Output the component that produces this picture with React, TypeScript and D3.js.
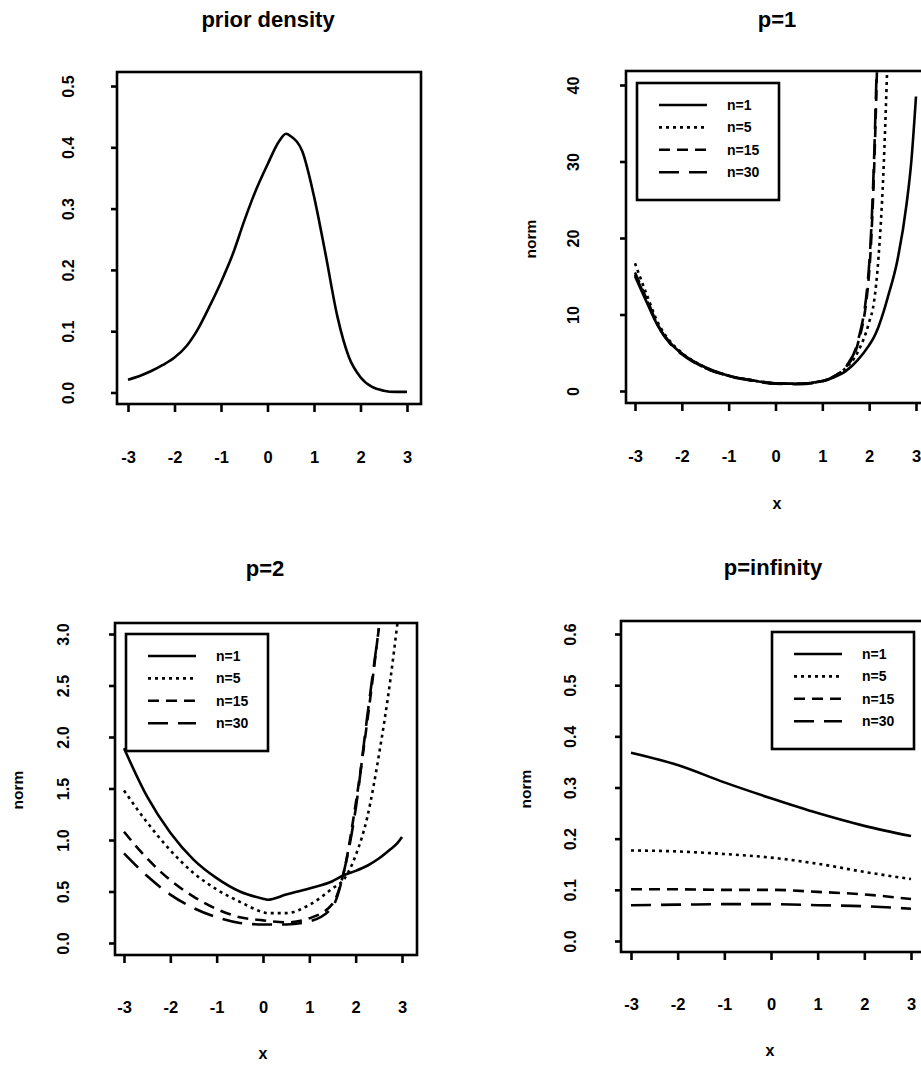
import React, { useEffect, useRef } from "react";
import * as d3 from "d3";

const WIDTH = 921;
const HEIGHT = 1066;
const FONT = "'Liberation Sans', Arial, Helvetica, sans-serif";

const xTicks = [-3, -2, -1, 0, 1, 2, 3];
const legendLabels = ["n=1", "n=5", "n=15", "n=30"];

// prior density
const priorX = [-3, -2.75, -2.5, -2.25, -2, -1.75, -1.5, -1.25, -1, -0.75, -0.5, -0.25, 0, 0.25, 0.4, 0.5, 0.75, 1, 1.25, 1.5, 1.75, 2, 2.25, 2.5, 2.75, 3];
const priorDensity = [0.021, 0.027, 0.035, 0.045, 0.057, 0.075, 0.103, 0.14, 0.18, 0.225, 0.28, 0.33, 0.372, 0.41, 0.422, 0.418, 0.393, 0.32, 0.225, 0.125, 0.058, 0.025, 0.009, 0.003, 0.001, 0.001];
const priorYTicks = [0, 0.1, 0.2, 0.3, 0.4, 0.5];

// p=1 (values past the top of the frame are clipped)
const p1X = [-3, -2.75, -2.5, -2.25, -2, -1.5, -1, -0.5, 0, 0.5, 1, 1.25, 1.5, 1.75, 2, 2.1, 2.2, 2.3, 2.4, 2.6, 2.8, 2.9, 3];
const p1N1 = [15.0, 11.6, 8.4, 6.3, 4.9, 3.1, 2.0, 1.4, 1.0, 0.95, 1.3, 1.8, 2.6, 4.0, 6.0, 7.0, 8.4, 10.2, 12.3, 17.0, 24.5, 30, 38.5];
const p1N5 = [16.7, 12.6, 8.8, 6.5, 5.0, 3.1, 2.0, 1.4, 1.0, 0.95, 1.3, 1.9, 3.0, 5.0, 9.0, 11.5, 17.5, 28, 45, null, null, null, null];
const p1N15 = [15.5, 12.0, 8.5, 6.3, 4.9, 3.0, 2.0, 1.4, 1.0, 0.95, 1.3, 1.9, 3.1, 6.0, 15.5, 28, 50, null, null, null, null, null, null];
const p1N30 = [15.2, 11.9, 8.4, 6.2, 4.8, 3.0, 1.95, 1.35, 0.95, 0.9, 1.25, 1.9, 3.2, 6.3, 16.5, 29.5, 52, null, null, null, null, null, null];
const p1YTicks = [0, 10, 20, 30, 40];

// p=2
const p2X = [-3, -2.5, -2, -1.5, -1, -0.5, 0, 0.1, 0.5, 1, 1.5, 1.75, 2, 2.25, 2.5, 2.75, 2.9, 3];
const p2N1 = [1.89, 1.42, 1.07, 0.81, 0.63, 0.5, 0.43, 0.42, 0.47, 0.53, 0.6, 0.66, 0.7, 0.75, 0.82, 0.91, 0.97, 1.03];
const p2N5 = [1.48, 1.17, 0.9, 0.68, 0.52, 0.4, 0.3, 0.29, 0.29, 0.37, 0.53, 0.62, 0.85, 1.22, 1.82, 2.56, 3.1, null];
const p2N15 = [1.08, 0.82, 0.61, 0.45, 0.33, 0.25, 0.22, 0.215, 0.2, 0.24, 0.38, 0.7, 1.35, 2.15, 3.06, null, null, null];
const p2N30 = [0.87, 0.65, 0.47, 0.34, 0.25, 0.195, 0.18, 0.18, 0.18, 0.21, 0.35, 0.7, 1.3, 2.2, 3.05, null, null, null];
const p2YTicks = [0, 0.5, 1, 1.5, 2, 2.5, 3];

// p=infinity
const pInfX = [-3, -2, -1, 0, 1, 2, 3];
const pInfN1 = [0.368, 0.344, 0.31, 0.279, 0.25, 0.225, 0.205];
const pInfN5 = [0.177, 0.175, 0.17, 0.163, 0.151, 0.135, 0.121];
const pInfN15 = [0.101, 0.101, 0.1, 0.1, 0.096, 0.091, 0.082];
const pInfN30 = [0.07, 0.071, 0.072, 0.072, 0.07, 0.068, 0.063];
const pInfYTicks = [0, 0.1, 0.2, 0.3, 0.4, 0.5, 0.6];

const dashes = ["none", "3,4", "11,7", "20,10"];

const panels = [
  {
    title: "prior density", titleX: 268, titleY: 27,
    frame: { l: 117, r: 421, t: 72, b: 404 },
    xRange: [128, 407], yDomain: [0, 0.5], yRange: [392.5, 86],
    yTicks: priorYTicks, fmt: d3.format(".1f"), yLabelX: 68, xLabelY: 457,
    series: [{ x: priorX, y: priorDensity }],
    xTitle: null, yTitle: null, legend: null,
  },
  {
    title: "p=1", titleX: 777, titleY: 27,
    frame: { l: 626, r: 931, t: 71, b: 403 },
    xRange: [635, 916], yDomain: [0, 40], yRange: [391, 85],
    yTicks: p1YTicks, fmt: d3.format("d"), yLabelX: 573, xLabelY: 456,
    series: [p1N1, p1N5, p1N15, p1N30].map((y) => ({ x: p1X, y })),
    xTitle: [777, 503], yTitle: [530, 239], legend: [637, 83],
  },
  {
    title: "p=2", titleX: 265, titleY: 576,
    frame: { l: 115, r: 417, t: 623, b: 955 },
    xRange: [124, 402], yDomain: [0, 3], yRange: [943, 634],
    yTicks: p2YTicks, fmt: d3.format(".1f"), yLabelX: 63, xLabelY: 1007,
    series: [p2N1, p2N5, p2N15, p2N30].map((y) => ({ x: p2X, y })),
    xTitle: [263, 1053], yTitle: [17, 790], legend: [126, 634],
  },
  {
    title: "p=infinity", titleX: 773, titleY: 575,
    frame: { l: 621, r: 931, t: 621, b: 952 },
    xRange: [631, 911], yDomain: [0, 0.6], yRange: [941, 634],
    yTicks: pInfYTicks, fmt: d3.format(".1f"), yLabelX: 570, xLabelY: 1004,
    series: [pInfN1, pInfN5, pInfN15, pInfN30].map((y) => ({ x: pInfX, y })),
    xTitle: [770, 1050], yTitle: [525, 789], legend: [772, 632],
  },
];

const App = () => {
  const svgRef = useRef(null);

  useEffect(() => {
    const svg = d3.select(svgRef.current);
    svg.selectAll("*").remove(); // Clear previous rendering

    svg.append("rect").attr("width", WIDTH).attr("height", HEIGHT).attr("fill", "#fff");
    const defs = svg.append("defs");

    panels.forEach((p, i) => {
      const f = p.frame;
      const x = d3.scaleLinear().domain([-3, 3]).range(p.xRange);
      const y = d3.scaleLinear().domain(p.yDomain).range(p.yRange);
      const g = svg.append("g");

      defs
        .append("clipPath")
        .attr("id", `clip${i}`)
        .append("rect")
        .attr("x", f.l)
        .attr("y", f.t)
        .attr("width", f.r - f.l)
        .attr("height", f.b - f.t);

      // Curves
      const line = d3
        .line()
        .defined((d) => d[1] != null)
        .x((d) => x(d[0]))
        .y((d) => y(d[1]))
        .curve(d3.curveMonotoneX);

      p.series.forEach((s, k) => {
        const pts = s.x.map((xv, j) => [xv, s.y[j]]);
        g.append("path")
          .attr("clip-path", `url(#clip${i})`)
          .attr("d", line(pts))
          .attr("fill", "none")
          .attr("stroke", "#000")
          .attr("stroke-width", 2.6)
          .attr("stroke-dasharray", dashes[k]);
      });

      // Frame
      g.append("rect")
        .attr("x", f.l)
        .attr("y", f.t)
        .attr("width", f.r - f.l)
        .attr("height", f.b - f.t)
        .attr("fill", "none")
        .attr("stroke", "#000")
        .attr("stroke-width", 2.6);

      // X-axis
      const xa = g
        .append("g")
        .attr("transform", `translate(0, ${f.b})`)
        .call(d3.axisBottom(x).tickValues(xTicks).tickSize(8).tickFormat((d) => String(d)));
      xa.select(".domain").remove();
      xa.selectAll("line").attr("stroke-width", 2.6);
      xa.selectAll("text")
        .attr("y", p.xLabelY - f.b)
        .attr("dy", "0.35em")
        .attr("fill", "#000")
        .style("font", `bold 16.5px ${FONT}`);

      // Y-axis
      const ya = g
        .append("g")
        .attr("transform", `translate(${f.l}, 0)`)
        .call(d3.axisLeft(y).tickValues(p.yTicks).tickSize(6).tickFormat(p.fmt));
      ya.select(".domain").remove();
      ya.selectAll("line").attr("stroke-width", 2.6);
      ya.selectAll("text")
        .attr("x", null)
        .attr("dy", null)
        .attr("text-anchor", "middle")
        .attr("dominant-baseline", "central")
        .attr("transform", `translate(${p.yLabelX - f.l}, 0) rotate(-90)`)
        .attr("fill", "#000")
        .style("font", `bold 16px ${FONT}`);

      // Title
      g.append("text")
        .attr("x", p.titleX)
        .attr("y", p.titleY)
        .attr("text-anchor", "middle")
        .style("font", `bold 22px ${FONT}`)
        .text(p.title);

      if (p.xTitle) {
        g.append("text")
          .attr("x", p.xTitle[0])
          .attr("y", p.xTitle[1])
          .attr("text-anchor", "middle")
          .attr("dominant-baseline", "central")
          .style("font", `bold 16px ${FONT}`)
          .text("x");
      }
      if (p.yTitle) {
        g.append("text")
          .attr("transform", `translate(${p.yTitle[0]}, ${p.yTitle[1]}) rotate(-90)`)
          .attr("text-anchor", "middle")
          .attr("dominant-baseline", "central")
          .style("font", `bold 15.5px ${FONT}`)
          .text("norm");
      }

      // Legend
      if (p.legend) {
        const [lx, ly] = p.legend;
        const lg = g.append("g").attr("transform", `translate(${lx}, ${ly})`);
        lg.append("rect")
          .attr("width", 142)
          .attr("height", 117)
          .attr("fill", "#fff")
          .attr("stroke", "#000")
          .attr("stroke-width", 2.6);
        legendLabels.forEach((lab, k) => {
          const ry = 22 + k * 22.4;
          lg.append("line")
            .attr("x1", 22)
            .attr("x2", 70)
            .attr("y1", ry)
            .attr("y2", ry)
            .attr("stroke", "#000")
            .attr("stroke-width", 2.6)
            .attr("stroke-dasharray", dashes[k]);
          lg.append("text")
            .attr("x", 90)
            .attr("y", ry)
            .attr("dominant-baseline", "central")
            .style("font", `bold 14px ${FONT}`)
            .text(lab);
        });
      }
    });
  }, []);

  return (
    <svg
      ref={svgRef}
      width={WIDTH}
      height={HEIGHT}
      style={{ position: "absolute", left: 0, top: 0 }}
    ></svg>
  );
};

export default App;
